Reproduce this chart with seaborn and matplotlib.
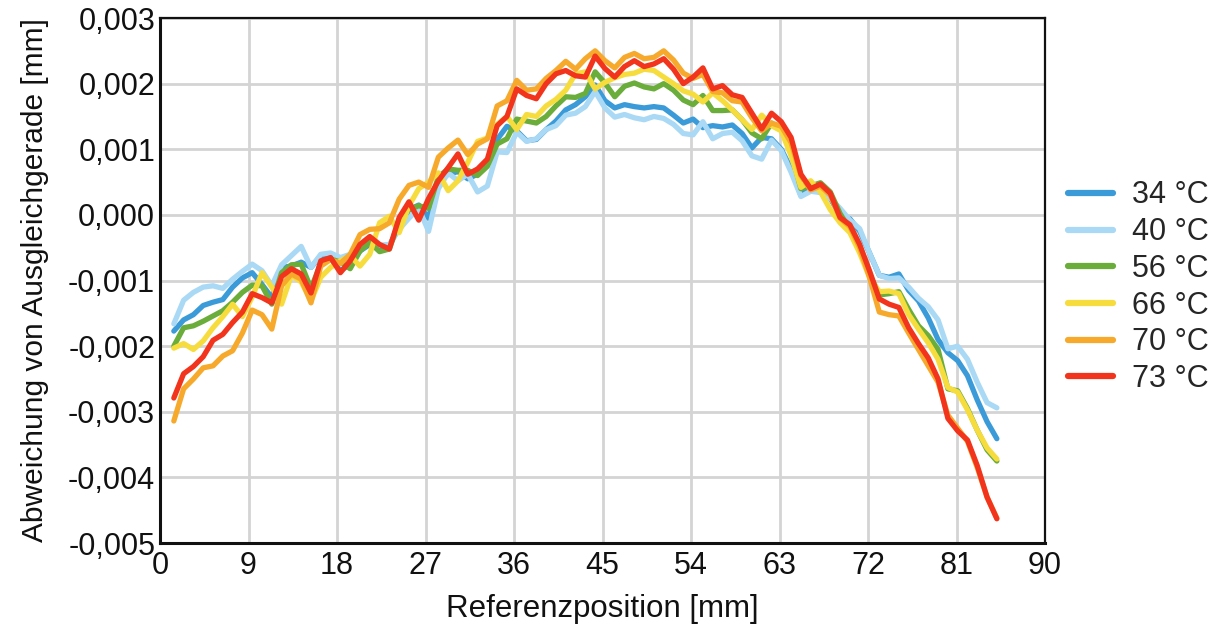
import numpy as np
import pandas as pd
import matplotlib
matplotlib.use("Agg")
import matplotlib.pyplot as plt
import seaborn as sns
from matplotlib.lines import Line2D

# Measuring positions along the reference (mm)
positions_mm = np.linspace(1.4, 85.1, 85)

temperatures = ["34 °C", "40 °C", "56 °C", "66 °C", "70 °C", "73 °C"]
colors = ["#3a9bd8", "#a9d9f5", "#6aad3b", "#f7dc3d", "#f6a92b", "#f2341c"]

# Deviation from the best-fit straight line, in µm (10^-3 mm)
dev_34 = [-1.77, -1.60, -1.52, -1.38, -1.33, -1.29, -1.10, -0.96, -0.88, -1.06,
          -1.26, -0.80, -0.78, -0.72, -0.80, -0.62, -0.66, -0.85, -0.75, -0.55,
          -0.45, -0.50, -0.47, -0.18, 0.08, 0.15, -0.05, 0.52, 0.62, 0.66,
          0.55, 0.62, 0.78, 1.15, 1.35, 1.28, 1.13, 1.15, 1.30, 1.43,
          1.60, 1.68, 1.80, 1.98, 1.74, 1.63, 1.68, 1.65, 1.63, 1.65,
          1.63, 1.52, 1.40, 1.46, 1.33, 1.36, 1.34, 1.37, 1.24, 1.02,
          1.18, 1.16, 1.00, 0.70, 0.30, 0.45, 0.40, 0.25, 0.00, -0.06,
          -0.25, -0.58, -0.92, -0.95, -0.90, -1.15, -1.31, -1.57, -1.90, -2.10,
          -2.22, -2.45, -2.82, -3.15, -3.41]

dev_40 = [-1.66, -1.30, -1.18, -1.10, -1.08, -1.12, -0.98, -0.86, -0.75, -0.85,
          -1.08, -0.76, -0.62, -0.48, -0.80, -0.60, -0.58, -0.65, -0.60, -0.50,
          -0.40, -0.46, -0.45, -0.22, -0.05, 0.10, -0.25, 0.40, 0.64, 0.52,
          0.62, 0.35, 0.44, 0.96, 0.95, 1.26, 1.12, 1.16, 1.30, 1.36,
          1.52, 1.55, 1.65, 1.88, 1.63, 1.49, 1.53, 1.48, 1.45, 1.50,
          1.47, 1.38, 1.24, 1.22, 1.42, 1.16, 1.24, 1.26, 1.13, 0.90,
          0.85, 1.14, 0.98, 0.65, 0.28, 0.36, 0.34, 0.25, 0.10, -0.08,
          -0.21, -0.58, -0.92, -0.97, -0.96, -1.10, -1.27, -1.40, -1.60, -2.04,
          -2.00, -2.20, -2.55, -2.86, -2.94]

dev_56 = [-2.00, -1.72, -1.69, -1.62, -1.54, -1.46, -1.33, -1.18, -1.07, -1.08,
          -1.36, -0.88, -0.76, -0.75, -1.12, -0.74, -0.67, -0.72, -0.82, -0.55,
          -0.42, -0.56, -0.52, -0.08, 0.08, 0.14, 0.10, 0.58, 0.70, 0.68,
          0.68, 0.60, 0.74, 1.08, 1.16, 1.46, 1.43, 1.40, 1.50, 1.66,
          1.80, 1.79, 1.85, 2.18, 2.01, 1.80, 1.96, 2.01, 1.95, 1.92,
          2.00, 1.90, 1.75, 1.68, 1.82, 1.59, 1.59, 1.60, 1.45, 1.25,
          1.16, 1.40, 1.30, 0.95, 0.40, 0.44, 0.49, 0.35, 0.02, -0.22,
          -0.55, -0.90, -1.22, -1.20, -1.17, -1.44, -1.69, -1.84, -2.05, -2.65,
          -2.68, -2.95, -3.28, -3.58, -3.75]

dev_66 = [-2.03, -1.96, -2.05, -1.92, -1.72, -1.55, -1.36, -1.55, -1.25, -0.88,
          -1.10, -1.36, -0.92, -1.02, -1.31, -0.95, -0.80, -0.70, -0.62, -0.78,
          -0.60, -0.12, -0.02, -0.27, 0.14, 0.40, 0.50, 0.64, 0.37, 0.52,
          0.80, 1.12, 1.17, 1.38, 1.50, 1.30, 1.53, 1.50, 1.66, 1.76,
          1.90, 2.15, 2.18, 1.92, 2.02, 2.09, 2.14, 2.16, 2.22, 2.20,
          2.10, 2.00, 1.89, 1.84, 1.72, 1.86, 1.74, 1.60, 1.45, 1.30,
          1.52, 1.36, 1.28, 0.90, 0.42, 0.52, 0.35, 0.08, -0.12, -0.27,
          -0.58, -0.95, -1.17, -1.16, -1.20, -1.52, -1.74, -1.95, -2.20, -2.63,
          -2.70, -2.97, -3.28, -3.55, -3.72]

dev_70 = [-3.14, -2.65, -2.50, -2.33, -2.30, -2.15, -2.07, -1.80, -1.45, -1.52,
          -1.74, -1.08, -0.90, -0.98, -1.34, -0.78, -0.68, -0.74, -0.60, -0.30,
          -0.22, -0.21, -0.12, 0.24, 0.45, 0.50, 0.42, 0.88, 1.02, 1.14,
          0.92, 1.08, 1.16, 1.66, 1.74, 2.05, 1.90, 1.92, 2.08, 2.20,
          2.34, 2.22, 2.38, 2.50, 2.35, 2.24, 2.40, 2.46, 2.38, 2.40,
          2.50, 2.36, 2.16, 2.08, 2.14, 1.88, 1.86, 1.74, 1.72, 1.48,
          1.28, 1.40, 1.35, 1.10, 0.60, 0.38, 0.44, 0.30, -0.05, -0.18,
          -0.50, -0.95, -1.48, -1.52, -1.54, -1.80, -2.05, -2.30, -2.55, -3.05,
          -3.25, -3.45, -3.85, -4.30, -4.62]

dev_73 = [-2.79, -2.42, -2.31, -2.16, -1.91, -1.82, -1.64, -1.48, -1.20, -1.26,
          -1.34, -0.94, -0.82, -0.90, -1.19, -0.70, -0.65, -0.88, -0.70, -0.45,
          -0.33, -0.45, -0.52, -0.04, 0.20, -0.08, 0.25, 0.52, 0.72, 0.93,
          0.62, 0.70, 0.85, 1.36, 1.50, 1.92, 1.82, 1.77, 2.00, 2.15,
          2.20, 2.12, 2.10, 2.42, 2.23, 2.10, 2.26, 2.35, 2.26, 2.30,
          2.38, 2.22, 2.00, 2.10, 2.24, 1.92, 1.97, 1.83, 1.79, 1.55,
          1.31, 1.55, 1.42, 1.18, 0.62, 0.40, 0.47, 0.33, -0.04, -0.15,
          -0.45, -0.85, -1.28, -1.36, -1.41, -1.72, -1.96, -2.18, -2.50, -3.10,
          -3.29, -3.43, -3.82, -4.30, -4.63]

x_ticks = [0, 9, 18, 27, 36, 45, 54, 63, 72, 81, 90]
y_ticks = [-0.005, -0.004, -0.003, -0.002, -0.001, 0.0, 0.001, 0.002, 0.003]
y_tick_labels = ["-0,005", "-0,004", "-0,003", "-0,002", "-0,001",
                 "0,000", "0,001", "0,002", "0,003"]

series = [dev_34, dev_40, dev_56, dev_66, dev_70, dev_73]
frames = []
for label, values in zip(temperatures, series):
    frames.append(pd.DataFrame({
        "Referenzposition": positions_mm,
        "Abweichung": np.asarray(values) / 1000.0,  # µm -> mm
        "Temperatur": label,
    }))
df = pd.concat(frames, ignore_index=True)

sns.set_theme(style="white")
plt.rcParams["font.family"] = ["Liberation Sans", "DejaVu Sans"]

fig = plt.figure(figsize=(12.18, 6.30), dpi=100)
ax = fig.add_axes([0.1314, 0.138, 0.7266, 0.8334])

sns.lineplot(data=df, x="Referenzposition", y="Abweichung", hue="Temperatur",
             hue_order=temperatures, palette=colors, estimator=None,
             linewidth=3.8, legend=False, ax=ax)

ax.set_xlim(0, 90)
ax.set_ylim(-0.005, 0.003)
ax.set_xticks(x_ticks)
ax.set_xticklabels([str(t) for t in x_ticks])
ax.set_yticks(y_ticks)
ax.set_yticklabels(y_tick_labels)
ax.tick_params(axis="both", length=0, labelsize=22, colors="#111111")
ax.tick_params(axis="y", pad=3.5)
ax.tick_params(axis="x", pad=6)

ax.grid(True, color="#d4d4d4", linewidth=2)
ax.set_axisbelow(True)
for side in ["left", "bottom", "top", "right"]:
    ax.spines[side].set_color("#111111")
    ax.spines[side].set_linewidth(1.6)
ax.spines["left"].set_linewidth(2.2)
ax.spines["bottom"].set_linewidth(2.2)

ax.set_xlabel("Referenzposition [mm]", fontsize=22.5, labelpad=9, color="#111111")
ax.set_ylabel("Abweichung von Ausgleichgerade [mm]", fontsize=21.5, labelpad=14,
              color="#111111")

handles = [Line2D([0], [0], color=c, linewidth=4.5) for c in colors]
fig.legend(handles, temperatures, loc="center left", bbox_to_anchor=(0.854, 0.544),
           frameon=False, fontsize=22, handlelength=1.47, handletextpad=0.65,
           labelspacing=0.22)

fig.savefig("out.png", dpi=100)
